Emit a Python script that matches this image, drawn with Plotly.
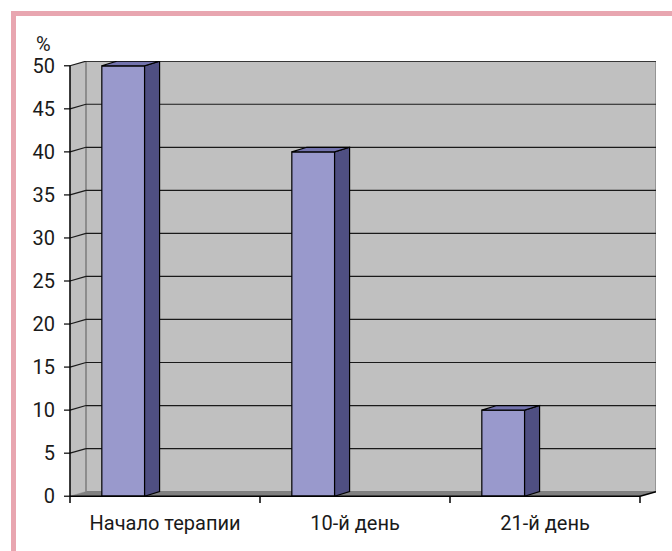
import plotly.graph_objects as go

# ---- data ----
categories = ["Начало терапии", "10-й день", "21-й день"]
values = [50, 40, 10]
y_ticks = [0, 5, 10, 15, 20, 25, 30, 35, 40, 45, 50]
y_unit = "%"

# ---- geometry (pixels) ----
W, H = 672, 551
L, R, T, B = 64, 16, 61, 47.5
PX_X = 190.0          # pixels per category slot
PX_Y = 8.618          # pixels per percent
plot_w = W - L - R
plot_h = H - T - B
x0_px = 6.0           # x=0 sits 6px right of the plot edge
y0_px = 6.8           # y=0 sits 6.8px above the plot edge
x_range = [-x0_px / PX_X, (plot_w - x0_px) / PX_X]
y_range = [-y0_px / PX_Y, (plot_h - y0_px) / PX_Y]

DX = 16 / PX_X        # wall depth
DY = 4.6 / PX_Y
BDX = 15 / PX_X       # bar depth
BDY = 4.6 / PX_Y
BAR_OFF = 0.28
BAR_W = 0.225
N = len(categories)
YMAX = y_ticks[-1]

FRONT = "#9999cc"
SIDE = "#4f4f82"
TOP = "#7373ad"
WALL = "#c0c0c0"
FLOOR = "#808080"
EDGE = "#7a7a7a"

shapes = []


def poly(pts, fill, line_color="black", width=1.0, layer="below"):
    d = "M " + " L ".join(f"{x},{y}" for x, y in pts) + " Z"
    return dict(type="path", path=d, xref="x", yref="y", fillcolor=fill,
                line=dict(color=line_color, width=width), layer=layer)


def seg(x1, y1, x2, y2, color="black", width=1.0, layer="below"):
    return dict(type="line", x0=x1, y0=y1, x1=x2, y1=y2, xref="x", yref="y",
                line=dict(color=color, width=width), layer=layer)


# left side wall
shapes.append(poly([(0, 0), (DX, DY), (DX, YMAX + DY), (0, YMAX)], WALL,
                   line_color=WALL, width=0.5))
# back wall
shapes.append(poly([(DX, DY), (N + DX, DY), (N + DX, YMAX + DY), (DX, YMAX + DY)], WALL,
                   line_color=EDGE, width=1.2))
# floor
shapes.append(poly([(0, 0), (N, 0), (N + DX, DY), (DX, DY)], FLOOR,
                   line_color=FLOOR, width=0.5))
# back wall left edge
shapes.append(seg(DX, DY, DX, YMAX + DY, color="#8a8a8a", width=1.5))

# gridlines on the walls, with y tick marks
for v in y_ticks[1:]:
    shapes.append(seg(DX, v + DY, N + DX, v + DY, color="#1a1a1a", width=1.2))
    shapes.append(seg(0, v, DX, v + DY, color="#1a1a1a", width=1.2))
    shapes.append(seg(0, v, -x0_px / PX_X, v, color="black", width=1.2))
shapes.append(seg(0, 0, -x0_px / PX_X, 0, color="black", width=1.2))

# bar sides and tops
for i, v in enumerate(values):
    xl = i + BAR_OFF - BAR_W / 2
    xr = i + BAR_OFF + BAR_W / 2
    shapes.append(poly([(xr, 0), (xr + BDX, BDY), (xr + BDX, v + BDY), (xr, v)], SIDE,
                       width=1.2, layer="above"))
    shapes.append(poly([(xl, v), (xr, v), (xr + BDX, v + BDY), (xl + BDX, v + BDY)], TOP,
                       width=1.2, layer="above"))

# axis lines and category tick marks
shapes.append(seg(0, 0, 0, YMAX, width=1.5, layer="above"))
shapes.append(seg(0, 0, N, 0, width=1.5, layer="above"))
shapes.append(seg(N, 0, N + DX, DY, width=1.5, layer="above"))
for k in range(N + 1):
    shapes.append(seg(k, 0, k, y_range[0], width=1.5, layer="above"))


def px_to_paper_x(px):
    return (px - L) / plot_w


def px_to_paper_y(py):
    return (H - B - py) / plot_h


# pink frame (top and left)
PINK = "#e8a6b0"
shapes.append(dict(type="rect", xref="paper", yref="paper",
                   x0=px_to_paper_x(11), x1=px_to_paper_x(W + 2),
                   y0=px_to_paper_y(16), y1=px_to_paper_y(11),
                   fillcolor=PINK, line=dict(width=0), layer="above"))
shapes.append(dict(type="rect", xref="paper", yref="paper",
                   x0=px_to_paper_x(11), x1=px_to_paper_x(16),
                   y0=px_to_paper_y(H + 2), y1=px_to_paper_y(11),
                   fillcolor=PINK, line=dict(width=0), layer="above"))

FONT = "Roboto, Liberation Sans, sans-serif"
TEXT = "#1a1a1a"

fig = go.Figure(go.Bar(
    x=[i + BAR_OFF for i in range(N)],
    y=values,
    width=BAR_W,
    marker=dict(color=FRONT, line=dict(color="black", width=1.2)),
    hoverinfo="skip",
))

fig.update_layout(
    width=W, height=H,
    margin=dict(l=L, r=R, t=T, b=B, pad=0),
    paper_bgcolor="white", plot_bgcolor="white",
    showlegend=False,
    shapes=shapes,
    font=dict(family=FONT, size=20, color=TEXT),
    xaxis=dict(range=x_range, showgrid=False, zeroline=False, showline=False,
               tickvals=[i + 0.5 for i in range(N)], ticktext=categories,
               ticks="", ticklabelstandoff=6, fixedrange=True),
    yaxis=dict(range=y_range, showgrid=False, zeroline=False, showline=False,
               tickvals=y_ticks, ticks="", ticklabelstandoff=8, fixedrange=True),
    annotations=[dict(text=y_unit, xref="paper", yref="paper",
                      x=px_to_paper_x(43), y=px_to_paper_y(44),
                      xanchor="center", yanchor="middle",
                      showarrow=False, font=dict(family=FONT, size=20, color=TEXT))],
)

fig.write_html("out.html")
